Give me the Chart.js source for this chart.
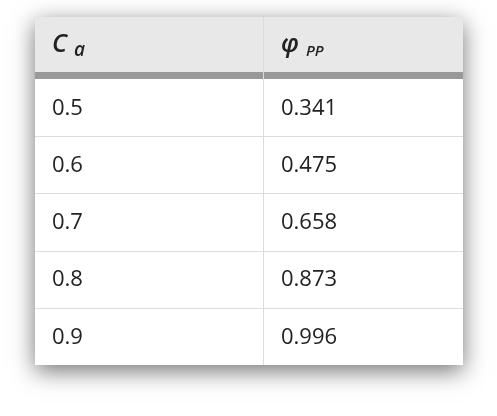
<!DOCTYPE html>
<html>
<head>
<meta charset="utf-8">
<script src="https://cdn.jsdelivr.net/npm/chart.js@4"></script>
<style>
  html, body { margin: 0; padding: 0; background: #fff; }
  #wrap { width: 497px; height: 416px; }
</style>
</head>
<body>
<div id="wrap"><canvas id="tbl"></canvas></div>
<script>
// table contents
const caValues = ['0.5', '0.6', '0.7', '0.8', '0.9'];
const phiValues = ['0.341', '0.475', '0.658', '0.873', '0.996'];
const headerMain = ['C', 'φ'];
const headerSub = ['a', 'PP'];

const tablePlugin = {
    id: 'tablePlugin',
    beforeDraw(chart) {
        const ctx = chart.ctx;
        const area = chart.chartArea;
        const left = area.left, right = area.right;
        const headTop = 17, headBottom = 72;
        const colX = 263;

        // shadow box
        ctx.save();
        ctx.shadowColor = 'rgba(0,0,0,0.55)';
        ctx.shadowBlur = 22;
        ctx.shadowOffsetY = 6;
        ctx.fillStyle = '#fff';
        ctx.fillRect(left, headTop, right - left, area.bottom - headTop);
        ctx.restore();

        // header
        ctx.fillStyle = '#e8e8e8';
        ctx.fillRect(left, headTop, right - left, headBottom - headTop);
        ctx.fillStyle = '#999';
        ctx.fillRect(left, headBottom, right - left, area.top - headBottom);

        ctx.fillStyle = '#222';
        ctx.textBaseline = 'alphabetic';
        const hx = [52, 281];
        const subSize = [19, 15];
        headerMain.forEach(function(t, i) {
            ctx.font = 'italic 600 25px "Open Sans"';
            ctx.fillText(t, hx[i], 52);
            const w = ctx.measureText(t).width;
            ctx.font = 'italic 600 ' + subSize[i] + 'px "Open Sans"';
            ctx.fillText(headerSub[i], hx[i] + w + 7, 56);
        });

        // rows from the category scale
        const y = chart.scales.y;
        const step = (area.bottom - area.top) / caValues.length;
        ctx.strokeStyle = '#dcdcdc';
        ctx.lineWidth = 1;
        ctx.font = '22px "Open Sans"';
        ctx.textBaseline = 'middle';
        caValues.forEach(function(v, i) {
            const cy = y.getPixelForValue(i);
            ctx.fillStyle = '#222';
            ctx.fillText(v, 52, cy + 1);
            ctx.fillText(phiValues[i], 281, cy + 1);
            if (i < caValues.length - 1) {
                ctx.beginPath();
                ctx.moveTo(left, Math.round(cy + step / 2) + 0.5);
                ctx.lineTo(right, Math.round(cy + step / 2) + 0.5);
                ctx.stroke();
            }
        });

        // column divider
        ctx.beginPath();
        ctx.moveTo(colX + 0.5, headTop);
        ctx.lineTo(colX + 0.5, area.bottom);
        ctx.stroke();
    }
};

new Chart(document.getElementById('tbl').getContext('2d'), {
    type: 'bar',
    data: {
        labels: caValues,
        datasets: [{ data: phiValues.map(Number), backgroundColor: 'rgba(0,0,0,0)' }]
    },
    options: {
        responsive: true,
        maintainAspectRatio: false,
        animation: false,
        indexAxis: 'y',
        layout: { padding: { top: 79, bottom: 51, left: 35, right: 34 } },
        plugins: { legend: { display: false }, tooltip: { enabled: false } },
        scales: {
            x: { display: false, min: 0, max: 1 },
            y: { display: false, offset: true }
        }
    },
    plugins: [tablePlugin]
});
</script>
</body>
</html>
